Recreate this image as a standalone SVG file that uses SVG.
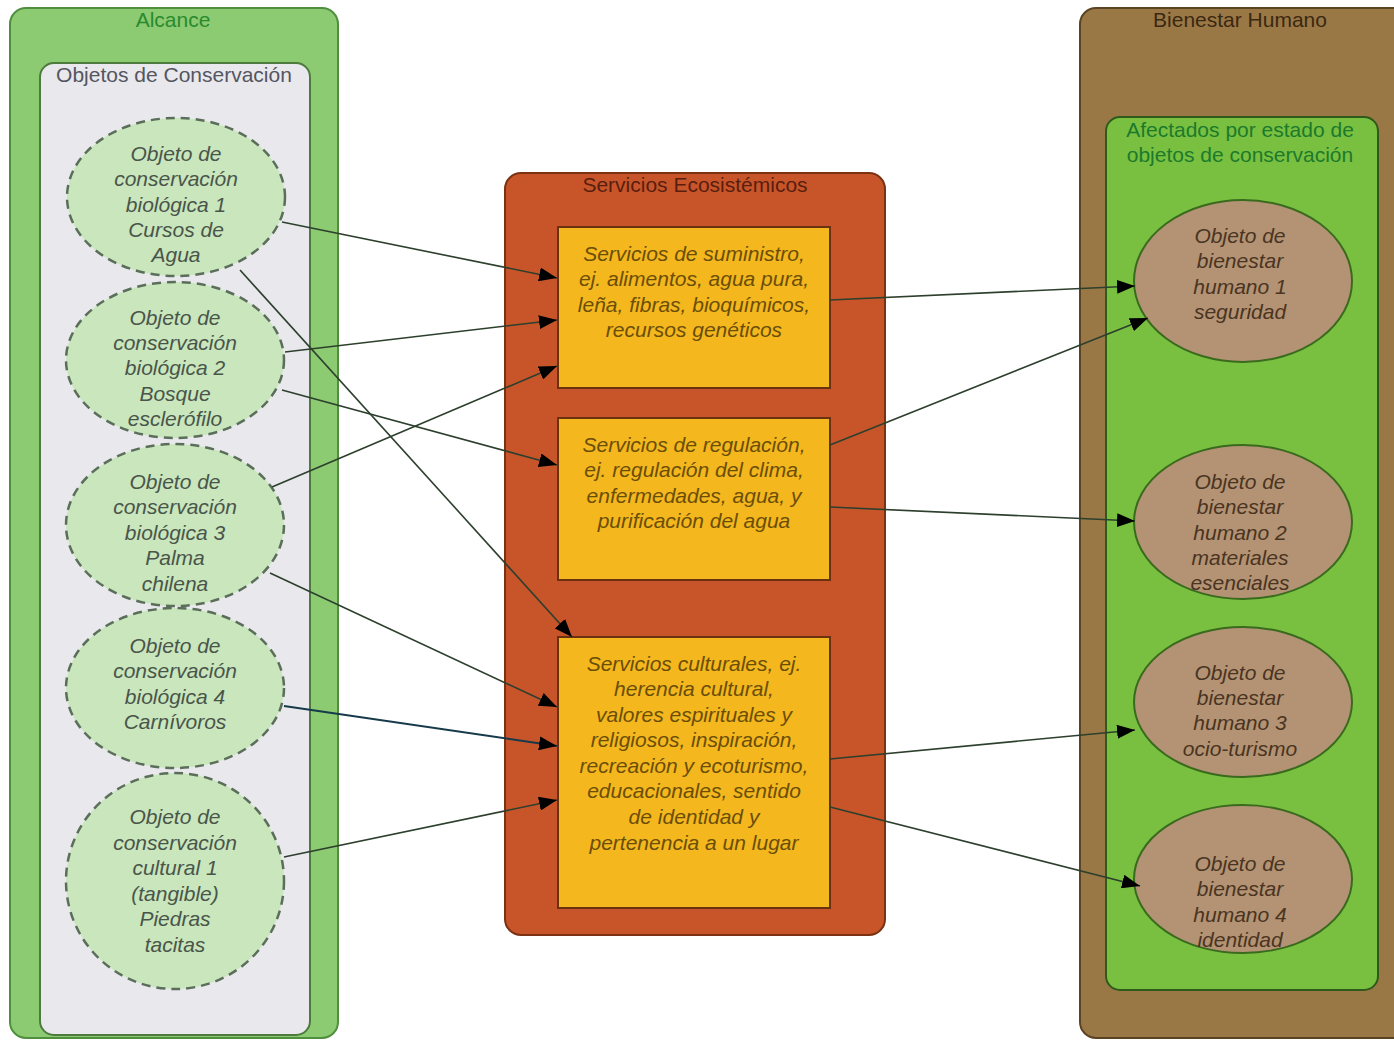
<svg xmlns="http://www.w3.org/2000/svg" width="1394" height="1041" viewBox="0 0 1394 1041">
<defs>
<style>
.t{font-family:"Liberation Sans",Arial,sans-serif;font-size:21px;text-anchor:middle}
.it{font-style:italic}
.oc{fill:#c9e6bd;stroke:#5a6e5a;stroke-width:2.5;stroke-dasharray:9 6}
.octx{fill:#4a554a}
.svc{fill:#f5b71e;stroke:#6a3210;stroke-width:2}
.svctx{fill:#6a4e08}
.hb{fill:#b39373;stroke:#3a6a1e;stroke-width:2}
.hbtx{fill:#4a3422}
.c{fill:none;stroke:#2d3f2d;stroke-width:1.6}
</style>
<marker id="ah" viewBox="0 0 18 14" refX="18" refY="7" markerWidth="18" markerHeight="14" markerUnits="userSpaceOnUse" orient="auto">
<path d="M0,0 L18,7 L0,14 Z" fill="#000"/>
</marker>
</defs>
<rect width="1394" height="1041" fill="#fff"/>

<g id="alcance">
<rect x="10" y="8" width="328" height="1030" rx="16" fill="#8ccb72" stroke="#4f8f3e" stroke-width="2"/>
<text class="t" x="173" y="27" fill="#2a8a2e">Alcance</text>
</g>
<g id="objetos">
<rect x="40" y="63" width="270" height="972" rx="14" fill="#e9e9ed" stroke="#4f7a3e" stroke-width="2"/>
<text class="t" x="174" y="82" fill="#555560">Objetos de Conservación</text>
</g>

<g id="servicios">
<rect x="505" y="173" width="380" height="762" rx="16" fill="#c8552a" stroke="#7a3212" stroke-width="2"/>
<text class="t" x="695" y="192" fill="#5a1e0e">Servicios Ecosistémicos</text>
</g>

<g id="bienestar">
<rect x="1080" y="8" width="330" height="1030" rx="16" fill="#9a7846" stroke="#5a4422" stroke-width="2"/>
<text class="t" x="1240" y="27" fill="#3a2812">Bienestar Humano</text>
</g>
<g id="afectados">
<rect x="1106" y="117" width="272" height="873" rx="14" fill="#79c040" stroke="#2f5a1c" stroke-width="2"/>
<text class="t" x="1240" y="137" fill="#1c7a2c">Afectados por estado de</text>
<text class="t" x="1240" y="162" fill="#1c7a2c">objetos de conservación</text>
</g>

<g id="oc1">
<ellipse class="oc" cx="176" cy="197" rx="109" ry="79"/>
<text class="t it octx"><tspan x="176" y="161">Objeto de</tspan><tspan x="176" y="186">conservación</tspan><tspan x="176" y="212">biológica 1</tspan><tspan x="176" y="237">Cursos de</tspan><tspan x="176" y="262">Agua</tspan></text>
</g>
<g id="oc2">
<ellipse class="oc" cx="175" cy="360" rx="109" ry="78"/>
<text class="t it octx"><tspan x="175" y="325">Objeto de</tspan><tspan x="175" y="350">conservación</tspan><tspan x="175" y="375">biológica 2</tspan><tspan x="175" y="401">Bosque</tspan><tspan x="175" y="426">esclerófilo</tspan></text>
</g>
<g id="oc3">
<ellipse class="oc" cx="175" cy="525" rx="109" ry="81"/>
<text class="t it octx"><tspan x="175" y="489">Objeto de</tspan><tspan x="175" y="514">conservación</tspan><tspan x="175" y="540">biológica 3</tspan><tspan x="175" y="565">Palma</tspan><tspan x="175" y="591">chilena</tspan></text>
</g>
<g id="oc4">
<ellipse class="oc" cx="175" cy="688" rx="109" ry="80"/>
<text class="t it octx"><tspan x="175" y="653">Objeto de</tspan><tspan x="175" y="678">conservación</tspan><tspan x="175" y="704">biológica 4</tspan><tspan x="175" y="729">Carnívoros</tspan></text>
</g>
<g id="oc5">
<ellipse class="oc" cx="175" cy="881" rx="109" ry="108"/>
<text class="t it octx"><tspan x="175" y="824">Objeto de</tspan><tspan x="175" y="850">conservación</tspan><tspan x="175" y="875">cultural 1</tspan><tspan x="175" y="901">(tangible)</tspan><tspan x="175" y="926">Piedras</tspan><tspan x="175" y="952">tacitas</tspan></text>
</g>

<g id="s1">
<rect class="svc" x="558" y="227" width="272" height="161"/>
<text class="t it svctx"><tspan x="694" y="261">Servicios de suministro,</tspan><tspan x="694" y="286">ej. alimentos, agua pura,</tspan><tspan x="694" y="312">leña, fibras, bioquímicos,</tspan><tspan x="694" y="337">recursos genéticos</tspan></text>
</g>
<g id="s2">
<rect class="svc" x="558" y="418" width="272" height="162"/>
<text class="t it svctx"><tspan x="694" y="452">Servicios de regulación,</tspan><tspan x="694" y="477">ej. regulación del clima,</tspan><tspan x="694" y="503">enfermedades, agua, y</tspan><tspan x="694" y="528">purificación del agua</tspan></text>
</g>
<g id="s3">
<rect class="svc" x="558" y="637" width="272" height="271"/>
<text class="t it svctx"><tspan x="694" y="671">Servicios culturales, ej.</tspan><tspan x="694" y="696">herencia cultural,</tspan><tspan x="694" y="722">valores espirituales y</tspan><tspan x="694" y="747">religiosos, inspiración,</tspan><tspan x="694" y="773">recreación y ecoturismo,</tspan><tspan x="694" y="798">educacionales, sentido</tspan><tspan x="694" y="824">de identidad y</tspan><tspan x="694" y="850">pertenencia a un lugar</tspan></text>
</g>

<g id="h1">
<ellipse class="hb" cx="1243" cy="281" rx="109" ry="81"/>
<text class="t it hbtx"><tspan x="1240" y="243">Objeto de</tspan><tspan x="1240" y="268">bienestar</tspan><tspan x="1240" y="294">humano 1</tspan><tspan x="1240" y="319">seguridad</tspan></text>
</g>
<g id="h2">
<ellipse class="hb" cx="1243" cy="522" rx="109" ry="77"/>
<text class="t it hbtx"><tspan x="1240" y="489">Objeto de</tspan><tspan x="1240" y="514">bienestar</tspan><tspan x="1240" y="540">humano 2</tspan><tspan x="1240" y="565">materiales</tspan><tspan x="1240" y="590">esenciales</tspan></text>
</g>
<g id="h3">
<ellipse class="hb" cx="1243" cy="702" rx="109" ry="75"/>
<text class="t it hbtx"><tspan x="1240" y="680">Objeto de</tspan><tspan x="1240" y="705">bienestar</tspan><tspan x="1240" y="730">humano 3</tspan><tspan x="1240" y="756">ocio-turismo</tspan></text>
</g>
<g id="h4">
<ellipse class="hb" cx="1243" cy="879" rx="109" ry="74"/>
<text class="t it hbtx"><tspan x="1240" y="871">Objeto de</tspan><tspan x="1240" y="896">bienestar</tspan><tspan x="1240" y="922">humano 4</tspan><tspan x="1240" y="947">identidad</tspan></text>
</g>

<g id="connectors">
<line class="c" x1="282" y1="222" x2="557" y2="278" marker-end="url(#ah)"/>
<line class="c" x1="285" y1="352" x2="557" y2="320" marker-end="url(#ah)"/>
<line class="c" x1="272" y1="487" x2="557" y2="366" marker-end="url(#ah)"/>
<line class="c" x1="282" y1="390" x2="557" y2="465" marker-end="url(#ah)"/>
<line class="c" x1="240" y1="270" x2="572" y2="637" marker-end="url(#ah)"/>
<line class="c" x1="270" y1="573" x2="557" y2="707" marker-end="url(#ah)"/>
<line class="c" x1="284" y1="706" x2="557" y2="746" marker-end="url(#ah)" style="stroke:#163a4a;stroke-width:2"/>
<line class="c" x1="284" y1="857" x2="557" y2="800" marker-end="url(#ah)"/>
<line class="c" x1="830" y1="300" x2="1135" y2="286" marker-end="url(#ah)"/>
<line class="c" x1="830" y1="445" x2="1148" y2="318" marker-end="url(#ah)"/>
<line class="c" x1="830" y1="507" x2="1135" y2="521" marker-end="url(#ah)"/>
<line class="c" x1="830" y1="759" x2="1135" y2="730" marker-end="url(#ah)"/>
<line class="c" x1="830" y1="807" x2="1140" y2="886" marker-end="url(#ah)"/>
</g>
</svg>
